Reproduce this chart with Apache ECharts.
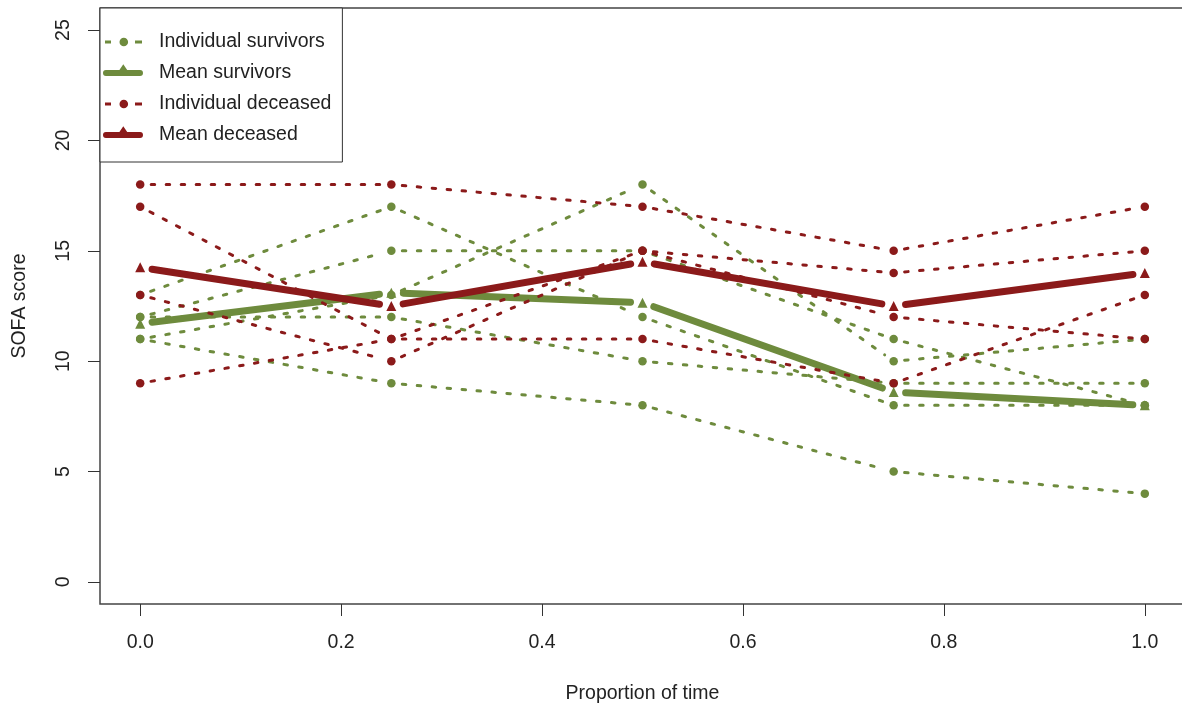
<!DOCTYPE html>
<html>
<head>
<meta charset="utf-8">
<script src="https://cdn.jsdelivr.net/npm/echarts@6/dist/echarts.min.js"></script>
<style>
  html, body { margin: 0; padding: 0; background: #fff; }
  #chart { width: 1182px; height: 703px; }
</style>
</head>
<body>
<div id="chart"></div>
<script>
// ---- data ----
const timePoints = [0, 0.25, 0.5, 0.75, 1.0];

const survivor1 = [13, 17, 12, 8, 8];
const survivor2 = [12, 15, 15, 11, 8];
const survivor3 = [11, 13, 18, 10, 11];
const survivor4 = [12, 12, 10, 9, 9];
const survivor5 = [11, 9, 8, 5, 4];
const meanSurvivors = [11.7, 13.1, 12.65, 8.6, 8.0];

const deceased1 = [18, 18, 17, 15, 17];
const deceased2 = [17, 11, 11, 9, 13];
const deceased3 = [13, 10, 15, 14, 15];
const deceased4 = [9, 11, 15, 12, 11];
const meanDeceased = [14.25, 12.5, 14.5, 12.5, 14];

const xTicks = [0, 0.2, 0.4, 0.6, 0.8, 1.0];
const yTicks = [0, 5, 10, 15, 20, 25];

const legendNames = ['Individual survivors', 'Mean survivors', 'Individual deceased', 'Mean deceased'];

// ---- styling ----
const GREEN = '#6E8B3D';
const RED = '#8B1A1A';
const FONT = "'Liberation Sans', Arial, sans-serif";
const FS = 19.5;

// legend icons in a 40x20 box (corner specks fix the bounding box)
const BOX = 'M0,0 L0.01,0 L0,0.01 Z M40,20 L39.99,20 L40,19.99 Z ';
const ICON_INDIV = 'path://' + BOX +
  'M2,8.5 L8,8.5 L8,11.5 L2,11.5 Z ' +
  'M32,8.5 L39,8.5 L39,11.5 L32,11.5 Z ' +
  'M16.5,10 A4.2,4.2 0 1,0 25.1,10 A4.2,4.2 0 1,0 16.5,10 Z';
const ICON_MEAN = 'path://' + BOX +
  'M3,7 L38,7 A3,3 0 0,1 38,13 L3,13 A3,3 0 0,1 3,7 Z ' +
  'M20.8,1 L25.5,8 L16.1,8 Z';

function segments(vals) {
  const out = [];
  for (let i = 0; i < vals.length - 1; i++) {
    out.push([timePoints[i], vals[i], timePoints[i + 1], vals[i + 1]]);
  }
  return out;
}
function points(vals) {
  return vals.map((v, i) => [timePoints[i], v]);
}

function segSeries(vals, color, width, dash, gap) {
  return {
    type: 'custom',
    silent: true,
    encode: { x: [0, 2], y: [1, 3] },
    data: segments(vals),
    renderItem: function (params, api) {
      const p0 = api.coord([api.value(0), api.value(1)]);
      const p1 = api.coord([api.value(2), api.value(3)]);
      const dx = p1[0] - p0[0], dy = p1[1] - p0[1];
      const len = Math.sqrt(dx * dx + dy * dy);
      if (len <= 2 * gap) return null;
      const ux = dx / len, uy = dy / len;
      return {
        type: 'line',
        shape: {
          x1: p0[0] + ux * gap, y1: p0[1] + uy * gap,
          x2: p1[0] - ux * gap, y2: p1[1] - uy * gap
        },
        style: { stroke: color, lineWidth: width, lineDash: dash, lineCap: 'round', fill: null }
      };
    }
  };
}
function ptSeries(vals, color, symbol, size) {
  return {
    type: 'scatter',
    silent: true,
    symbol: symbol,
    symbolSize: size,
    itemStyle: { color: color, opacity: 1 },
    data: points(vals)
  };
}
function legendSeries(name, color) {
  return {
    type: 'line',
    name: name,
    data: [],
    itemStyle: { color: color },
    lineStyle: { color: color }
  };
}

const DOT = [3.5, 11.5];
const series = [];
[survivor1, survivor2, survivor3, survivor4, survivor5].forEach(v => {
  series.push(segSeries(v, GREEN, 3, DOT, 11));
  series.push(ptSeries(v, GREEN, 'circle', 8.5));
});
series.push(segSeries(meanSurvivors, GREEN, 7, null, 12));
series.push(ptSeries(meanSurvivors, GREEN, 'triangle', 10));
[deceased1, deceased2, deceased3, deceased4].forEach(v => {
  series.push(segSeries(v, RED, 3, DOT, 11));
  series.push(ptSeries(v, RED, 'circle', 8.5));
});
series.push(segSeries(meanDeceased, RED, 7, null, 12));
series.push(ptSeries(meanDeceased, RED, 'triangle', 10));

series.push(legendSeries(legendNames[0], GREEN));
series.push(legendSeries(legendNames[1], GREEN));
series.push(legendSeries(legendNames[2], RED));
series.push(legendSeries(legendNames[3], RED));

const chart = echarts.init(document.getElementById('chart'), null, { renderer: 'canvas' });
chart.setOption({
  animation: false,
  backgroundColor: '#fff',
  textStyle: { fontFamily: FONT },
  grid: {
    left: 100, top: 8, width: 1085, height: 596,
    outerBoundsMode: 'none',
    containLabel: false,
    show: true, borderColor: '#444', borderWidth: 1.5, backgroundColor: 'transparent'
  },
  legend: {
    data: [
      { name: legendNames[0], icon: ICON_INDIV },
      { name: legendNames[1], icon: ICON_MEAN },
      { name: legendNames[2], icon: ICON_INDIV },
      { name: legendNames[3], icon: ICON_MEAN }
    ],
    orient: 'vertical',
    left: 100, top: 8,
    padding: [24, 11, 17, 3],
    itemGap: 11,
    itemWidth: 40,
    itemHeight: 20,
    backgroundColor: '#fff',
    borderColor: '#333',
    borderWidth: 1,
    borderRadius: 0,
    selectedMode: false,
    textStyle: { fontFamily: FONT, fontSize: FS, color: '#222', padding: [0, 0, 0, 11], lineHeight: 20 }
  },
  xAxis: {
    type: 'value',
    min: -0.04, max: 1.04,
    name: 'Proportion of time',
    nameLocation: 'middle',
    nameGap: 80,
    nameTextStyle: { fontFamily: FONT, fontSize: FS, color: '#222' },
    axisLine: { show: false, onZero: false },
    splitLine: { show: false },
    axisTick: { show: true, inside: false, length: 12, lineStyle: { color: '#333', width: 1 }, customValues: xTicks },
    axisLabel: {
      show: true, customValues: xTicks, margin: 29,
      fontFamily: FONT, fontSize: FS, color: '#222',
      formatter: v => Number(v).toFixed(1)
    }
  },
  yAxis: {
    type: 'value',
    min: -1, max: 26,
    name: 'SOFA score',
    nameLocation: 'middle',
    nameGap: 70,
    nameTextStyle: { fontFamily: FONT, fontSize: FS, color: '#222' },
    axisLine: { show: false, onZero: false },
    splitLine: { show: false },
    axisTick: { show: true, inside: false, length: 12, lineStyle: { color: '#333', width: 1 }, customValues: yTicks },
    axisLabel: {
      show: true, customValues: yTicks, margin: 26, rotate: 90,
      fontFamily: FONT, fontSize: FS, color: '#222',
      formatter: v => String(v)
    }
  },
  series: series
});
</script>
</body>
</html>
